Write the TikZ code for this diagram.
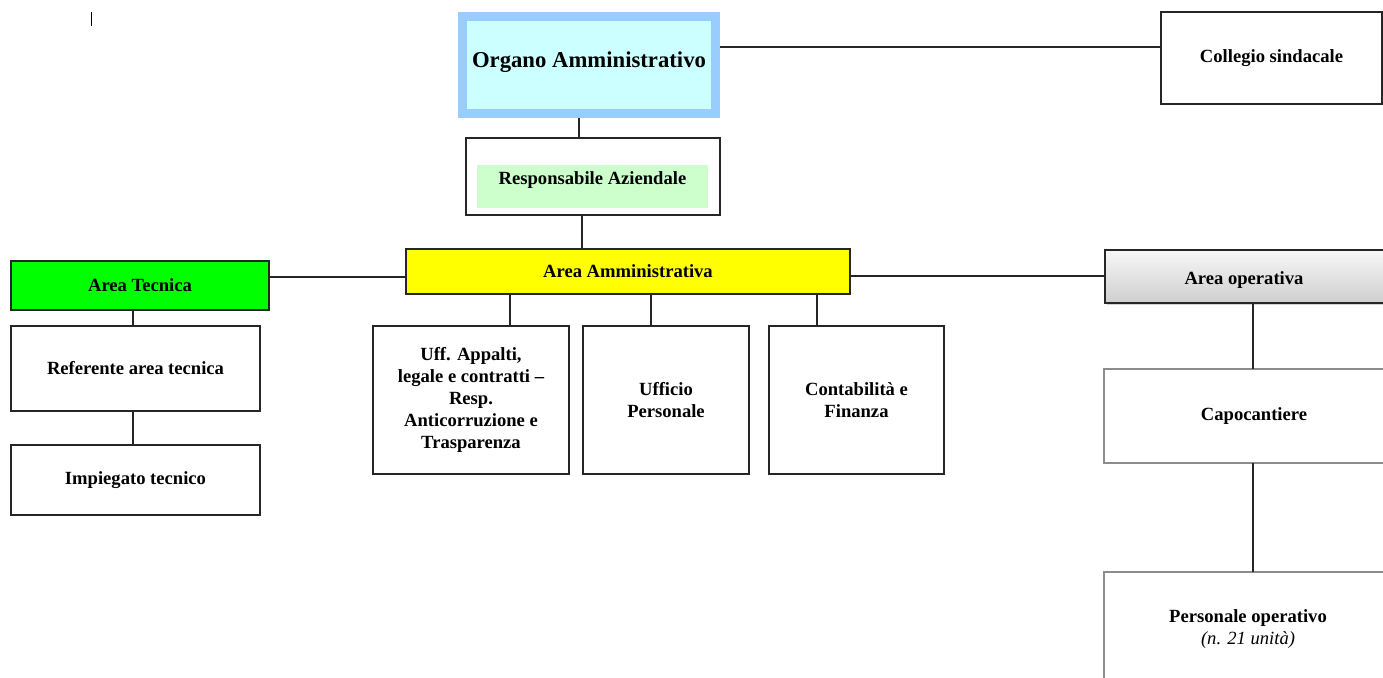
\documentclass[tikz,border=0pt]{standalone}
\usepackage{fontspec}
\setmainfont{Liberation Serif}
\usetikzlibrary{shadows}
\definecolor{orgborder}{HTML}{99CCFF}
\definecolor{orgfill}{HTML}{CCFFFF}
\definecolor{respfill}{HTML}{CCFFCC}
\definecolor{tecfill}{HTML}{00FF00}
\definecolor{ammfill}{HTML}{FFFF00}
\newcommand{\shiftup}[2]{\raisebox{#1}[\height][\depth]{#2}}
\begin{document}
\begin{tikzpicture}[x=1pt,y=-1pt,
  box/.style={draw=black!85, line width=1.4pt, anchor=north west, inner sep=0pt, outer sep=0pt,
    align=center, fill=white, font=\fontsize{18.6}{22}\selectfont\bfseries},
  lbox/.style={box, draw=black!45, line width=1.2pt},
  conn/.style={line width=1.4pt, draw=black!85}]
\useasboundingbox (0,0) rectangle (1383,677);
\clip (0,0) rectangle (1383,677);
% stray mark
\draw[line width=1pt] (91,12) -- (91,26);
% top level
\node[box, draw=orgborder, fill=orgfill, line width=9pt, minimum width=253pt, minimum height=97pt,
  font=\fontsize{22.7}{27}\selectfont\bfseries] (org) at (462.5,16.5) {\shiftup{3pt}{Organo Amministrativo}};
\node[box, minimum width=221pt, minimum height=92pt] (coll) at (1161,12) {Collegio sindacale};
\node[box, minimum width=254pt, minimum height=77pt] (resp) at (466,138) {};
\node[box, draw=none, fill=respfill, minimum width=231pt, minimum height=43pt] (respin) at (477,165) {\shiftup{6pt}{Responsabile Aziendale}};
% second level
\node[box, fill=ammfill, minimum width=444pt, minimum height=45pt] (amm) at (406,249) {Area Amministrativa};
\node[box, fill=tecfill, minimum width=258pt, minimum height=49pt] (tec) at (11,261) {Area Tecnica};
\node[box, top color=gray!6, bottom color=gray!38, drop shadow={shadow xshift=2pt, shadow yshift=-2pt, opacity=0.35},
  minimum width=286pt, minimum height=53pt] (oper) at (1105,250) {\hspace*{-8pt}\shiftup{-4pt}{Area operativa}};
% technical area
\node[box, minimum width=249pt, minimum height=85pt] (ref) at (11,326) {Referente area tecnica};
\node[box, minimum width=249pt, minimum height=70pt] (imp) at (11,445) {Impiegato tecnico};
% administrative area
\node[box, minimum width=196pt, minimum height=148pt] (uff) at (373,326) {Uff. Appalti,\\legale e contratti --\\Resp.\\Anticorruzione e\\Trasparenza};
\node[box, minimum width=166pt, minimum height=148pt] (pers) at (583,326) {Ufficio\\Personale};
\node[box, minimum width=175pt, minimum height=148pt] (cont) at (769,326) {Contabilità e\\Finanza};
% operative area
\node[lbox, minimum width=300pt, minimum height=94pt] (capo) at (1104,369) {Capocantiere};
\node[lbox, minimum width=288pt, minimum height=114pt] (pop) at (1104,572) {Personale operativo\\{\mdseries\itshape (n. 21 unità)}};
% connectors
\draw[conn] ([xshift=4.5pt]org.east |- 0,47) -- (coll.west |- 0,47);
\draw[conn] ([yshift=-4.5pt]579,0 |- org.south) -- (579,0 |- resp.north);
\draw[conn] (582,0 |- resp.south) -- (582,0 |- amm.north);
\draw[conn] (tec.east |- 0,277) -- (amm.west |- 0,277);
\draw[conn] (amm.east |- 0,276) -- (oper.west |- 0,276);
\draw[conn] (133,0 |- tec.south) -- (133,0 |- ref.north);
\draw[conn] (133,0 |- ref.south) -- (133,0 |- imp.north);
\draw[conn] (510,0 |- amm.south) -- (510,0 |- uff.north);
\draw[conn] (651,0 |- amm.south) -- (651,0 |- pers.north);
\draw[conn] (817,0 |- amm.south) -- (817,0 |- cont.north);
\draw[conn] (1253,0 |- oper.south) -- (1253,0 |- capo.north);
\draw[conn] (1253,0 |- capo.south) -- (1253,0 |- pop.north);
\end{tikzpicture}
\end{document}
